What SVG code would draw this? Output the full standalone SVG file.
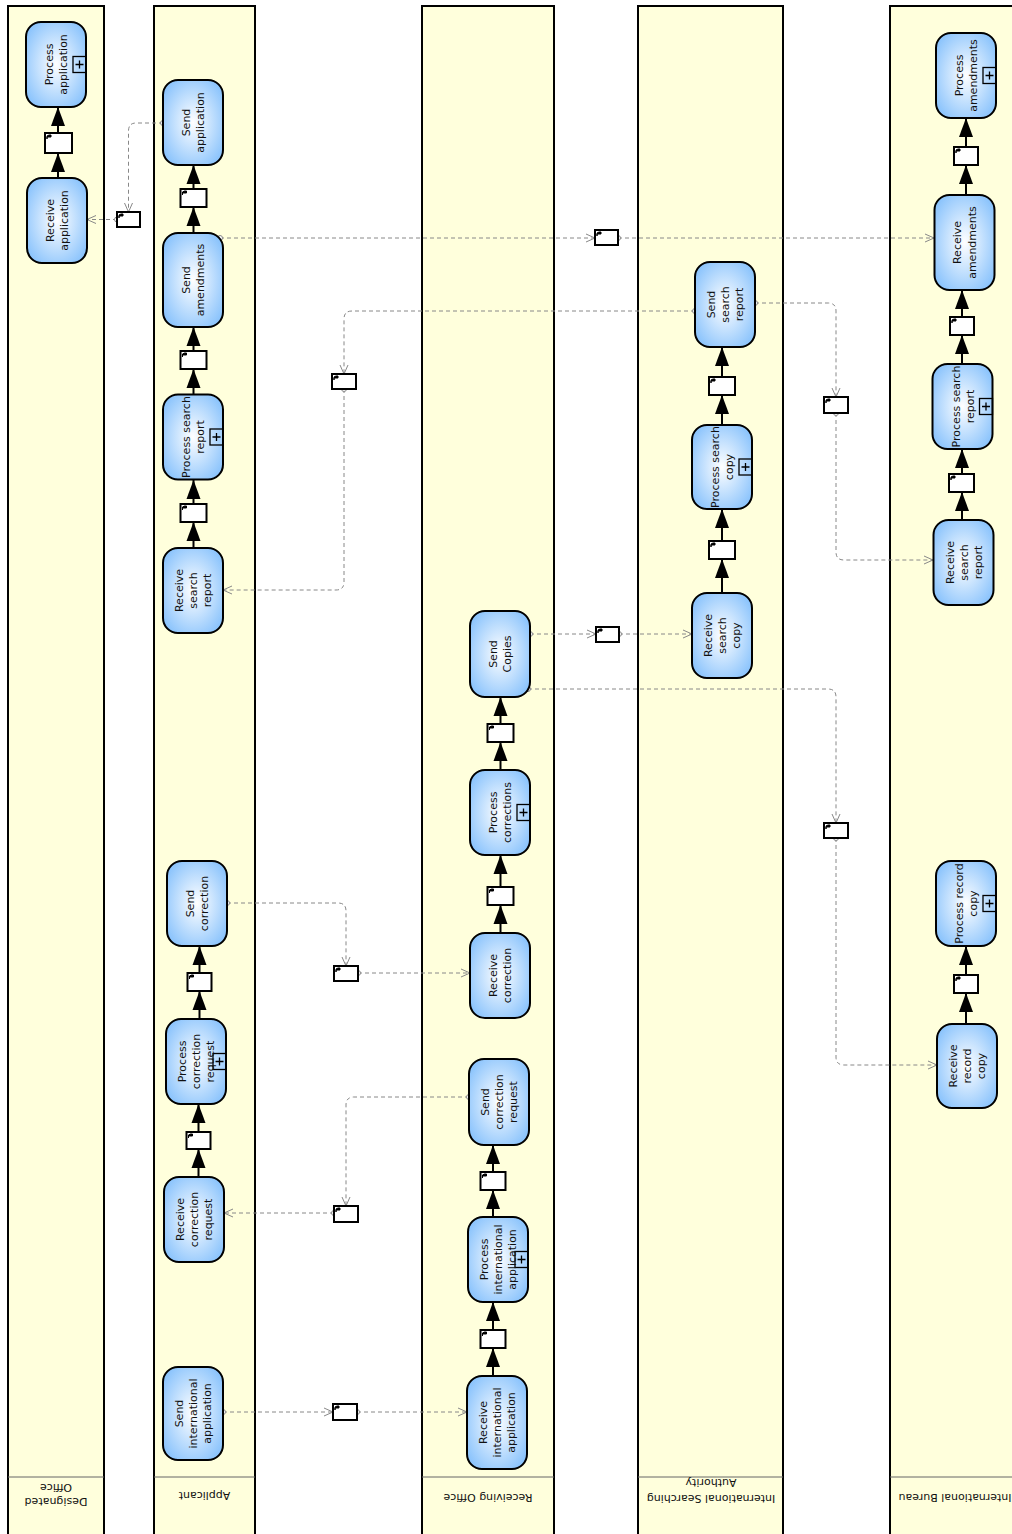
<svg xmlns="http://www.w3.org/2000/svg" width="1012" height="1534" viewBox="0 0 1012 1534">
<style>
.lane{fill:#ffffdc;stroke:#000;stroke-width:2}
.sep{stroke:#666;stroke-width:1}
.task{fill:url(#tg);stroke:#000;stroke-width:2}
.sub{fill:none;stroke:#000;stroke-width:1.3}
.lbl{font-family:"DejaVu Sans","Liberation Sans",sans-serif;font-size:11px;fill:#111;text-anchor:middle;dominant-baseline:central}
.data rect{fill:#fff;stroke:#000;stroke-width:2}
.data path{fill:#000;stroke:#000;stroke-width:1}
.seq{stroke:#000;stroke-width:2;fill:none;marker-end:url(#ah)}
.msg{stroke:#888;stroke-width:1;fill:none;stroke-dasharray:4 3;marker-start:url(#mc);marker-end:url(#mo)}
</style>
<defs>
<radialGradient id="tg" cx="50%" cy="50%" r="65%"><stop offset="0" stop-color="#ffffff"/><stop offset="1" stop-color="#82bffc"/></radialGradient>
<marker id="ah" markerUnits="userSpaceOnUse" markerWidth="20" markerHeight="16" refX="19" refY="8" orient="auto"><path d="M0,1 L19,8 L0,15 z" fill="#000"/></marker>
<marker id="mo" markerUnits="userSpaceOnUse" markerWidth="12" markerHeight="12" refX="10" refY="6" orient="auto"><path d="M1,2 L10,6 L1,10" fill="none" stroke="#888" stroke-width="1"/></marker>
<marker id="mc" markerUnits="userSpaceOnUse" markerWidth="8" markerHeight="8" refX="4" refY="4" orient="auto"><circle cx="4" cy="4" r="2.5" fill="#fff" stroke="#888" stroke-width="1"/></marker>
</defs>

<g id="lanes">
<g id="lane-designated-office">
<rect class="lane" x="8" y="6" width="96" height="1540"/>
<line class="sep" x1="8" y1="1477" x2="104" y2="1477"/>
<text class="lbl" transform="translate(56,1495) rotate(180)"><tspan x="0" y="-7">Designated</tspan><tspan x="0" y="7">Office</tspan></text>
</g>
<g id="lane-applicant">
<rect class="lane" x="154" y="6" width="101" height="1540"/>
<line class="sep" x1="154" y1="1477" x2="255" y2="1477"/>
<text class="lbl" transform="translate(204.5,1495) rotate(180)">Applicant</text>
</g>
<g id="lane-receiving-office">
<rect class="lane" x="422" y="6" width="132" height="1540"/>
<line class="sep" x1="422" y1="1477" x2="554" y2="1477"/>
<text class="lbl" transform="translate(488,1497) rotate(180)">Receiving Office</text>
</g>
<g id="lane-isa">
<rect class="lane" x="638" y="6" width="145" height="1540"/>
<line class="sep" x1="638" y1="1477" x2="783" y2="1477"/>
<text class="lbl" transform="translate(711,1491) rotate(180)"><tspan x="0" y="-8">International Searching</tspan><tspan x="0" y="8">Authority</tspan></text>
</g>
<g id="lane-international-bureau">
<rect class="lane" x="890" y="6" width="140" height="1540"/>
<line class="sep" x1="890" y1="1477" x2="1030" y2="1477"/>
<text class="lbl" transform="translate(955,1497) rotate(180)">International Bureau</text>
</g>
</g>

<g id="connectors">
<!-- sequence flows -->
<line class="seq" x1="58" y1="178" x2="58" y2="153"/>
<line class="seq" x1="58" y1="133" x2="58" y2="107"/>
<line class="seq" x1="193.5" y1="233" x2="193.5" y2="207"/>
<line class="seq" x1="193.5" y1="189" x2="193.5" y2="165"/>
<line class="seq" x1="193.5" y1="394" x2="193.5" y2="369"/>
<line class="seq" x1="193.5" y1="351" x2="193.5" y2="327"/>
<line class="seq" x1="193.5" y1="548" x2="193.5" y2="522"/>
<line class="seq" x1="193.5" y1="504" x2="193.5" y2="480"/>
<line class="seq" x1="198.5" y1="1177" x2="198.5" y2="1149"/>
<line class="seq" x1="198.5" y1="1132" x2="198.5" y2="1104"/>
<line class="seq" x1="199.5" y1="1019" x2="199.5" y2="991"/>
<line class="seq" x1="199.5" y1="973" x2="199.5" y2="946"/>
<line class="seq" x1="493" y1="1376" x2="493" y2="1348"/>
<line class="seq" x1="493" y1="1330" x2="493" y2="1302"/>
<line class="seq" x1="493" y1="1217" x2="493" y2="1190"/>
<line class="seq" x1="493" y1="1172" x2="493" y2="1145"/>
<line class="seq" x1="500.5" y1="933" x2="500.5" y2="905"/>
<line class="seq" x1="500.5" y1="887" x2="500.5" y2="855"/>
<line class="seq" x1="500.5" y1="770" x2="500.5" y2="742"/>
<line class="seq" x1="500.5" y1="724" x2="500.5" y2="697"/>
<line class="seq" x1="722" y1="593" x2="722" y2="559"/>
<line class="seq" x1="722" y1="541" x2="722" y2="509"/>
<line class="seq" x1="722" y1="425" x2="722" y2="395"/>
<line class="seq" x1="722" y1="377" x2="722" y2="347"/>
<line class="seq" x1="966" y1="195" x2="966" y2="165"/>
<line class="seq" x1="966" y1="147" x2="966" y2="118"/>
<line class="seq" x1="962" y1="364" x2="962" y2="335"/>
<line class="seq" x1="962" y1="317" x2="962" y2="290"/>
<line class="seq" x1="962" y1="520" x2="962" y2="492"/>
<line class="seq" x1="962" y1="474" x2="962" y2="449"/>
<line class="seq" x1="966" y1="1024" x2="966" y2="993"/>
<line class="seq" x1="966" y1="975" x2="966" y2="946"/>
<!-- message flows -->
<path class="msg" d="M163,123 H136 Q128.5,123 128.5,131 V212"/>
<path class="msg" d="M117,219.5 H87"/>
<path class="msg" d="M220,238 H595"/>
<path class="msg" d="M618,238 H934"/>
<path class="msg" d="M695,311 H352 Q344,311 344,319 V374"/>
<path class="msg" d="M344,389 V582 Q344,590 336,590 H223"/>
<path class="msg" d="M755,303 H828 Q836,303 836,311 V397"/>
<path class="msg" d="M836,413 V552 Q836,560 844,560 H933"/>
<path class="msg" d="M530,634 H596"/>
<path class="msg" d="M619,634 H692"/>
<path class="msg" d="M528,689 H828 Q836,689 836,697 V823"/>
<path class="msg" d="M836,838 V1057 Q836,1065 844,1065 H937"/>
<path class="msg" d="M227,903 H338 Q346,903 346,911 V966"/>
<path class="msg" d="M358,973 H470"/>
<path class="msg" d="M469,1097 H354 Q346,1097 346,1105 V1206"/>
<path class="msg" d="M334,1213 H224"/>
<path class="msg" d="M223,1412 H333"/>
<path class="msg" d="M357,1412 H467"/>
</g>

<g id="data-objects">
<g id="d-do" class="data"><rect x="45" y="133" width="27" height="20"/><path d="M47,139 V136 L49,135 H51 V137 H47 z"/></g>
<g id="d-ap1" class="data"><rect x="180.5" y="189" width="26" height="18"/><path d="M182.5,195 V192 L184.5,191 H186.5 V193 H182.5 z"/></g>
<g id="d-ap2" class="data"><rect x="180.5" y="351" width="26" height="18"/><path d="M182.5,357 V354 L184.5,353 H186.5 V355 H182.5 z"/></g>
<g id="d-ap3" class="data"><rect x="180.5" y="504" width="26" height="18"/><path d="M182.5,510 V507 L184.5,506 H186.5 V508 H182.5 z"/></g>
<g id="d-ap4" class="data"><rect x="187.5" y="973" width="24" height="18"/><path d="M189.5,979 V976 L191.5,975 H193.5 V977 H189.5 z"/></g>
<g id="d-ap5" class="data"><rect x="186.5" y="1132" width="24" height="17"/><path d="M188.5,1138 V1135 L190.5,1134 H192.5 V1136 H188.5 z"/></g>
<g id="d-ro1" class="data"><rect x="487.5" y="724" width="26" height="18"/><path d="M489.5,730 V727 L491.5,726 H493.5 V728 H489.5 z"/></g>
<g id="d-ro2" class="data"><rect x="487.5" y="887" width="26" height="18"/><path d="M489.5,893 V890 L491.5,889 H493.5 V891 H489.5 z"/></g>
<g id="d-ro3" class="data"><rect x="480.5" y="1172" width="25" height="18"/><path d="M482.5,1178 V1175 L484.5,1174 H486.5 V1176 H482.5 z"/></g>
<g id="d-ro4" class="data"><rect x="480.5" y="1330" width="25" height="18"/><path d="M482.5,1336 V1333 L484.5,1332 H486.5 V1334 H482.5 z"/></g>
<g id="d-isa1" class="data"><rect x="709" y="377" width="26" height="18"/><path d="M711,383 V380 L713,379 H715 V381 H711 z"/></g>
<g id="d-isa2" class="data"><rect x="709" y="541" width="26" height="18"/><path d="M711,547 V544 L713,543 H715 V545 H711 z"/></g>
<g id="d-ib1" class="data"><rect x="954" y="147" width="24" height="18"/><path d="M956,153 V150 L958,149 H960 V151 H956 z"/></g>
<g id="d-ib2" class="data"><rect x="950" y="317" width="24" height="18"/><path d="M952,323 V320 L954,319 H956 V321 H952 z"/></g>
<g id="d-ib3" class="data"><rect x="949" y="474" width="25" height="18"/><path d="M951,480 V477 L953,476 H955 V478 H951 z"/></g>
<g id="d-ib4" class="data"><rect x="954" y="975" width="24" height="18"/><path d="M956,981 V978 L958,977 H960 V979 H956 z"/></g>
<!-- message data -->
<g id="m1" class="data"><rect x="117" y="212" width="23" height="15"/><path d="M119,218 V215 L121,214 H123 V216 H119 z"/></g>
<g id="m2" class="data"><rect x="595" y="230" width="23" height="15"/><path d="M597,236 V233 L599,232 H601 V234 H597 z"/></g>
<g id="m3" class="data"><rect x="332" y="374" width="24" height="15"/><path d="M334,380 V377 L336,376 H338 V378 H334 z"/></g>
<g id="m4" class="data"><rect x="824" y="397" width="24" height="16"/><path d="M826,403 V400 L828,399 H830 V401 H826 z"/></g>
<g id="m5" class="data"><rect x="596" y="627" width="23" height="15"/><path d="M598,633 V630 L600,629 H602 V631 H598 z"/></g>
<g id="m6" class="data"><rect x="824" y="823" width="24" height="15"/><path d="M826,829 V826 L828,825 H830 V827 H826 z"/></g>
<g id="m7" class="data"><rect x="334" y="966" width="24" height="15"/><path d="M336,972 V969 L338,968 H340 V970 H336 z"/></g>
<g id="m8" class="data"><rect x="334" y="1206" width="24" height="16"/><path d="M336,1212 V1209 L338,1208 H340 V1210 H336 z"/></g>
<g id="m9" class="data"><rect x="333" y="1404" width="24" height="16"/><path d="M335,1410 V1407 L337,1406 H339 V1408 H335 z"/></g>
</g>

<g id="tasks">
<g id="process-application" transform="translate(56,64.5) rotate(-90)"><rect class="task" x="-42.5" y="-30" width="85" height="60" rx="15"/><rect class="sub" x="-8" y="17" width="16" height="13"/><path class="sub" d="M-4,23.5 H4 M0,19.5 V27.5"/><text class="lbl"><tspan x="0" y="-7.5">Process</tspan><tspan x="0" y="7">application</tspan></text></g>
<g id="receive-application" transform="translate(57,220.5) rotate(-90)"><rect class="task" x="-42.5" y="-30" width="85" height="60" rx="15"/><text class="lbl"><tspan x="0" y="-7.5">Receive</tspan><tspan x="0" y="7">application</tspan></text></g>

<g id="send-application" transform="translate(193,122.5) rotate(-90)"><rect class="task" x="-42.5" y="-30" width="85" height="60" rx="15"/><text class="lbl"><tspan x="0" y="-7.5">Send</tspan><tspan x="0" y="7">application</tspan></text></g>
<g id="send-amendments" transform="translate(193,280) rotate(-90)"><rect class="task" x="-47" y="-30" width="94" height="60" rx="15"/><text class="lbl"><tspan x="0" y="-7.5">Send</tspan><tspan x="0" y="7">amendments</tspan></text></g>
<g id="process-search-report-ap" transform="translate(193,437) rotate(-90)"><rect class="task" x="-42.5" y="-30" width="85" height="60" rx="15"/><rect class="sub" x="-8" y="17" width="16" height="13"/><path class="sub" d="M-4,23.5 H4 M0,19.5 V27.5"/><text class="lbl"><tspan x="0" y="-7">Process search</tspan><tspan x="0" y="7">report</tspan></text></g>
<g id="receive-search-report-ap" transform="translate(193,590.5) rotate(-90)"><rect class="task" x="-42.5" y="-30" width="85" height="60" rx="15"/><text class="lbl"><tspan x="0" y="-14">Receive</tspan><tspan x="0" y="0">search</tspan><tspan x="0" y="14">report</tspan></text></g>
<g id="send-correction" transform="translate(197,903.5) rotate(-90)"><rect class="task" x="-42.5" y="-30" width="85" height="60" rx="15"/><text class="lbl"><tspan x="0" y="-7.5">Send</tspan><tspan x="0" y="7">correction</tspan></text></g>
<g id="process-correction-request" transform="translate(196,1061.5) rotate(-90)"><rect class="task" x="-42.5" y="-30" width="85" height="60" rx="15"/><rect class="sub" x="-8" y="17" width="16" height="13"/><path class="sub" d="M-4,23.5 H4 M0,19.5 V27.5"/><text class="lbl"><tspan x="0" y="-14">Process</tspan><tspan x="0" y="0">correction</tspan><tspan x="0" y="14">request</tspan></text></g>
<g id="receive-correction-request" transform="translate(194,1219.5) rotate(-90)"><rect class="task" x="-42.5" y="-30" width="85" height="60" rx="15"/><text class="lbl"><tspan x="0" y="-14">Receive</tspan><tspan x="0" y="0">correction</tspan><tspan x="0" y="14">request</tspan></text></g>
<g id="send-international-application" transform="translate(193,1413.5) rotate(-90)"><rect class="task" x="-46.5" y="-30" width="93" height="60" rx="15"/><text class="lbl"><tspan x="0" y="-14">Send</tspan><tspan x="0" y="0">international</tspan><tspan x="0" y="14">application</tspan></text></g>

<g id="send-copies" transform="translate(500,654) rotate(-90)"><rect class="task" x="-43" y="-30" width="86" height="60" rx="15"/><text class="lbl"><tspan x="0" y="-7.5">Send</tspan><tspan x="0" y="7">Copies</tspan></text></g>
<g id="process-corrections" transform="translate(500,812.5) rotate(-90)"><rect class="task" x="-42.5" y="-30" width="85" height="60" rx="15"/><rect class="sub" x="-8" y="17" width="16" height="13"/><path class="sub" d="M-4,23.5 H4 M0,19.5 V27.5"/><text class="lbl"><tspan x="0" y="-7.5">Process</tspan><tspan x="0" y="7">corrections</tspan></text></g>
<g id="receive-correction" transform="translate(500,975.5) rotate(-90)"><rect class="task" x="-42.5" y="-30" width="85" height="60" rx="15"/><text class="lbl"><tspan x="0" y="-7.5">Receive</tspan><tspan x="0" y="7">correction</tspan></text></g>
<g id="send-correction-request" transform="translate(499,1102) rotate(-90)"><rect class="task" x="-43" y="-30" width="86" height="60" rx="15"/><text class="lbl"><tspan x="0" y="-14">Send</tspan><tspan x="0" y="0">correction</tspan><tspan x="0" y="14">request</tspan></text></g>
<g id="process-international-application" transform="translate(498,1259.5) rotate(-90)"><rect class="task" x="-42.5" y="-30" width="85" height="60" rx="15"/><rect class="sub" x="-8" y="17" width="16" height="13"/><path class="sub" d="M-4,23.5 H4 M0,19.5 V27.5"/><text class="lbl"><tspan x="0" y="-14">Process</tspan><tspan x="0" y="0">international</tspan><tspan x="0" y="14">application</tspan></text></g>
<g id="receive-international-application" transform="translate(497,1422.5) rotate(-90)"><rect class="task" x="-46.5" y="-30" width="93" height="60" rx="15"/><text class="lbl"><tspan x="0" y="-14">Receive</tspan><tspan x="0" y="0">international</tspan><tspan x="0" y="14">application</tspan></text></g>

<g id="send-search-report" transform="translate(725,304.5) rotate(-90)"><rect class="task" x="-42.5" y="-30" width="85" height="60" rx="15"/><text class="lbl"><tspan x="0" y="-14">Send</tspan><tspan x="0" y="0">search</tspan><tspan x="0" y="14">report</tspan></text></g>
<g id="process-search-copy" transform="translate(722,467) rotate(-90)"><rect class="task" x="-42" y="-30" width="84" height="60" rx="15"/><rect class="sub" x="-8" y="17" width="16" height="13"/><path class="sub" d="M-4,23.5 H4 M0,19.5 V27.5"/><text class="lbl"><tspan x="0" y="-7">Process search</tspan><tspan x="0" y="7">copy</tspan></text></g>
<g id="receive-search-copy" transform="translate(722,635.5) rotate(-90)"><rect class="task" x="-42.5" y="-30" width="85" height="60" rx="15"/><text class="lbl"><tspan x="0" y="-14">Receive</tspan><tspan x="0" y="0">search</tspan><tspan x="0" y="14">copy</tspan></text></g>

<g id="process-amendments" transform="translate(966,75.5) rotate(-90)"><rect class="task" x="-42.5" y="-30" width="85" height="60" rx="15"/><rect class="sub" x="-8" y="17" width="16" height="13"/><path class="sub" d="M-4,23.5 H4 M0,19.5 V27.5"/><text class="lbl"><tspan x="0" y="-7.5">Process</tspan><tspan x="0" y="7">amendments</tspan></text></g>
<g id="receive-amendments" transform="translate(964.5,242.5) rotate(-90)"><rect class="task" x="-47.5" y="-30" width="95" height="60" rx="15"/><text class="lbl"><tspan x="0" y="-7.5">Receive</tspan><tspan x="0" y="7">amendments</tspan></text></g>
<g id="process-search-report-ib" transform="translate(962.5,406.5) rotate(-90)"><rect class="task" x="-42.5" y="-30" width="85" height="60" rx="15"/><rect class="sub" x="-8" y="17" width="16" height="13"/><path class="sub" d="M-4,23.5 H4 M0,19.5 V27.5"/><text class="lbl"><tspan x="0" y="-7">Process search</tspan><tspan x="0" y="7">report</tspan></text></g>
<g id="receive-search-report-ib" transform="translate(963.5,562.5) rotate(-90)"><rect class="task" x="-42.5" y="-30" width="85" height="60" rx="15"/><text class="lbl"><tspan x="0" y="-14">Receive</tspan><tspan x="0" y="0">search</tspan><tspan x="0" y="14">report</tspan></text></g>
<g id="process-record-copy" transform="translate(966,903.5) rotate(-90)"><rect class="task" x="-42.5" y="-30" width="85" height="60" rx="15"/><rect class="sub" x="-8" y="17" width="16" height="13"/><path class="sub" d="M-4,23.5 H4 M0,19.5 V27.5"/><text class="lbl"><tspan x="0" y="-7">Process record</tspan><tspan x="0" y="7">copy</tspan></text></g>
<g id="receive-record-copy" transform="translate(967,1066) rotate(-90)"><rect class="task" x="-42" y="-30" width="84" height="60" rx="15"/><text class="lbl"><tspan x="0" y="-14">Receive</tspan><tspan x="0" y="0">record</tspan><tspan x="0" y="14">copy</tspan></text></g>
</g>
</svg>
